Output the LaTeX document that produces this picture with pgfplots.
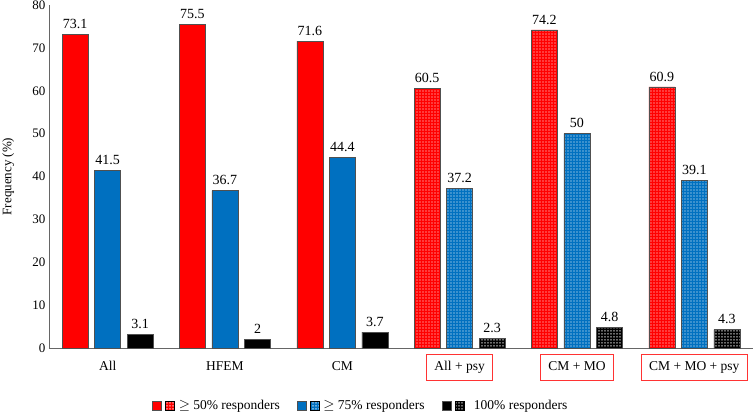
\documentclass[border=0pt]{standalone}
\usepackage{pgfplots}
\pgfplotsset{compat=1.18}
\usepackage{fontspec}
\setmainfont{Liberation Serif}
\usetikzlibrary{patterns.meta}
\definecolor{myred}{RGB}{255,0,0}
\definecolor{myblue}{RGB}{0,112,192}
\definecolor{edge}{RGB}{80,80,80}
\pgfdeclarepattern{name=wdots, type=uncolored,
  bottom left={\pgfpoint{0pt}{0pt}}, top right={\pgfpoint{2.6pt}{2.6pt}},
  tile size={\pgfpoint{2.6pt}{2.6pt}},
  code={\pgfpathrectangle{\pgfpoint{0.5pt}{0.6pt}}{\pgfpoint{1.3pt}{1.1pt}}\pgfusepath{fill}}}
\newcommand{\rbox}[1]{{\setlength{\fboxsep}{4pt}\setlength{\fboxrule}{0.9pt}\fcolorbox{red!80}{white}{\rule[-5pt]{0pt}{17pt}\hspace{3.5pt}#1\hspace{3.5pt}}}}
\pgfplotstableread{
x r b k
0 73.1 41.5 3.1
1 75.5 36.7 2
2 71.6 44.4 3.7
3 60.5 37.2 2.3
4 74.2 50 4.8
5 60.9 39.1 4.3
}\datatab
\pgfplotstableread{
x r b k
3 60.5 37.2 2.3
4 74.2 50 4.8
5 60.9 39.1 4.3
}\pattab
\begin{document}
\begin{tikzpicture}
\begin{axis}[
  at={(0,0)}, anchor=south west,
  scale only axis, width=704pt, height=343pt,
  ybar, bar width=0.222,
  xmin=-0.5, xmax=5.5, ymin=0, ymax=80,
  ytick={0,10,...,80},
  xtick={0,...,5},
  xticklabels={All,HFEM,CM,{\rbox{All + psy}},{\rbox{CM + MO}},{\rbox{CM + MO + psy}}},
  xticklabel style={anchor=base, yshift=-23pt, font=\fontsize{13.5}{15}\selectfont},
  yticklabel style={font=\fontsize{13}{15}\selectfont},
  /pgf/number format/assume math mode=true,
  axis x line=bottom, axis y line=left,
  axis line style={-, draw=gray!80!black, line width=0.8pt},
  major tick length=0pt,
  ylabel={Frequency (\%)},
  ylabel style={at={(axis description cs:-0.058,0.5)}, anchor=center, font=\fontsize{13}{15}\selectfont},
  clip=false,
  nodes near coords style={font=\fontsize{14}{16}\selectfont, yshift=2pt, text=black},
  legend style={at={(axis description cs:0.443,-0.169)}, anchor=center, draw=none,
    font=\fontsize{13.5}{15}\selectfont, /tikz/every even column/.append style={column sep=15pt}},
  legend columns=3,
]
\addlegendimage{legend image code/.code={\draw[draw=edge,fill=myred] (0pt,-4.5pt) rectangle (9pt,4.5pt);\draw[draw=edge,fill=myred] (13pt,-4.5pt) rectangle (22pt,4.5pt);\fill[pattern=wdots,pattern color=white] (13pt,-4.5pt) rectangle (22pt,4.5pt);}}
\addlegendentry{\hspace{2pt}$\geq$ 50\% responders}
\addlegendimage{legend image code/.code={\draw[draw=edge,fill=myblue] (0pt,-4.5pt) rectangle (9pt,4.5pt);\draw[draw=edge,fill=myblue] (13pt,-4.5pt) rectangle (22pt,4.5pt);\fill[pattern=wdots,pattern color=white] (13pt,-4.5pt) rectangle (22pt,4.5pt);}}
\addlegendentry{\hspace{2pt}$\geq$ 75\% responders}
\addlegendimage{legend image code/.code={\draw[draw=edge,fill=black] (0pt,-4.5pt) rectangle (9pt,4.5pt);\draw[draw=edge,fill=black] (13pt,-4.5pt) rectangle (22pt,4.5pt);\fill[pattern=wdots,pattern color=white] (13pt,-4.5pt) rectangle (22pt,4.5pt);}}
\addlegendentry{\hspace{8pt}100\% responders}
\addplot[bar shift=-0.277, fill=myred, draw=edge, line width=0.6pt, nodes near coords, forget plot] table[x=x,y=r]{\datatab};
\addplot[bar shift=0, fill=myblue, draw=edge, line width=0.6pt, nodes near coords, forget plot] table[x=x,y=b]{\datatab};
\addplot[bar shift=0.277, fill=black, draw=edge, line width=0.6pt, nodes near coords, forget plot] table[x=x,y=k]{\datatab};
\addplot[bar shift=-0.277, pattern=wdots, pattern color=white, draw=edge, line width=0.6pt, forget plot] table[x=x,y=r]{\pattab};
\addplot[bar shift=0, pattern=wdots, pattern color=white, draw=edge, line width=0.6pt, forget plot] table[x=x,y=b]{\pattab};
\addplot[bar shift=0.277, pattern=wdots, pattern color=white, draw=edge, line width=0.6pt, forget plot] table[x=x,y=k]{\pattab};
\end{axis}
\pgfresetboundingbox
\useasboundingbox (-49pt,-67pt) rectangle (704pt,348pt);
\end{tikzpicture}
\end{document}
